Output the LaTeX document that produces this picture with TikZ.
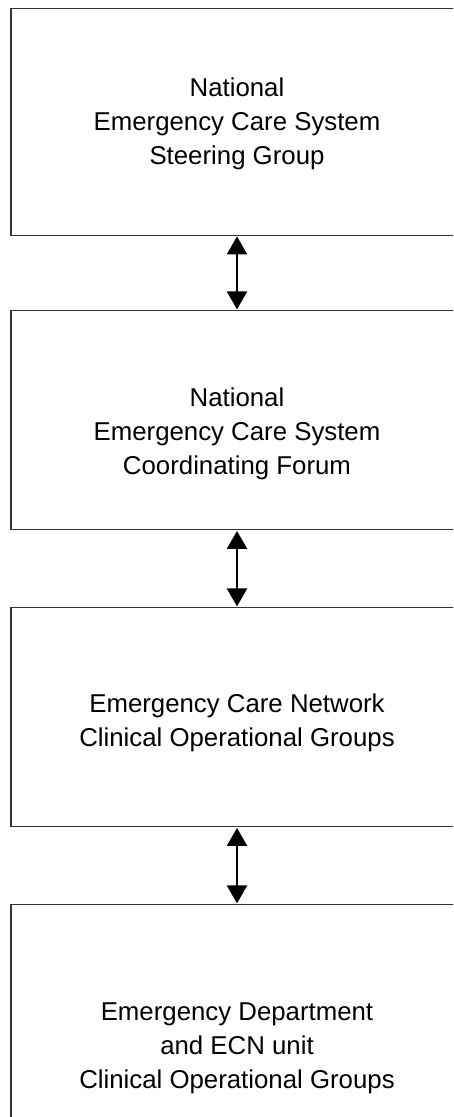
\documentclass[tikz,border=0pt]{standalone}
\usepackage{fontspec}
\setmainfont{Liberation Sans}
\usetikzlibrary{arrows.meta}
\begin{document}
\begin{tikzpicture}[x=1pt,y=1pt,
  boxstyle/.style={draw=black!80,line width=1.3pt,minimum width=452pt,inner sep=0pt,anchor=north},
  labelstyle/.style={align=center,font=\fontsize{25.8}{33.8}\selectfont,inner sep=0pt},
  link/.style={line width=2.2pt,{Triangle[width=20pt,length=18pt]}-{Triangle[width=20pt,length=18pt]},shorten <=0.6pt,shorten >=0.6pt}]
\useasboundingbox (0,0) rectangle (453,-1117);
\clip (0,0) rectangle (453,-1117);
\node[boxstyle,minimum height=226.5pt] (b1) at (237,-8) {};
\node[boxstyle,minimum height=219pt] (b2) at (237,-310) {};
\node[boxstyle,minimum height=219pt] (b3) at (237,-607) {};
\node[boxstyle,minimum height=219pt] (b4) at (237,-904) {};
\node[labelstyle] (t1) at (237,-124) {National\\Emergency Care System\\Steering Group};
\node[labelstyle] (t2) at (237,-434) {National\\Emergency Care System\\Coordinating Forum};
\node[labelstyle] (t3) at (237,-723) {Emergency Care Network\\Clinical Operational Groups};
\node[labelstyle] (t4) at (237,-1048) {Emergency Department\\and ECN unit\\Clinical Operational Groups};
\draw[link] (b1.south) -- (b2.north);
\draw[link] (b2.south) -- (b3.north);
\draw[link] (b3.south) -- (b4.north);
\end{tikzpicture}
\end{document}
